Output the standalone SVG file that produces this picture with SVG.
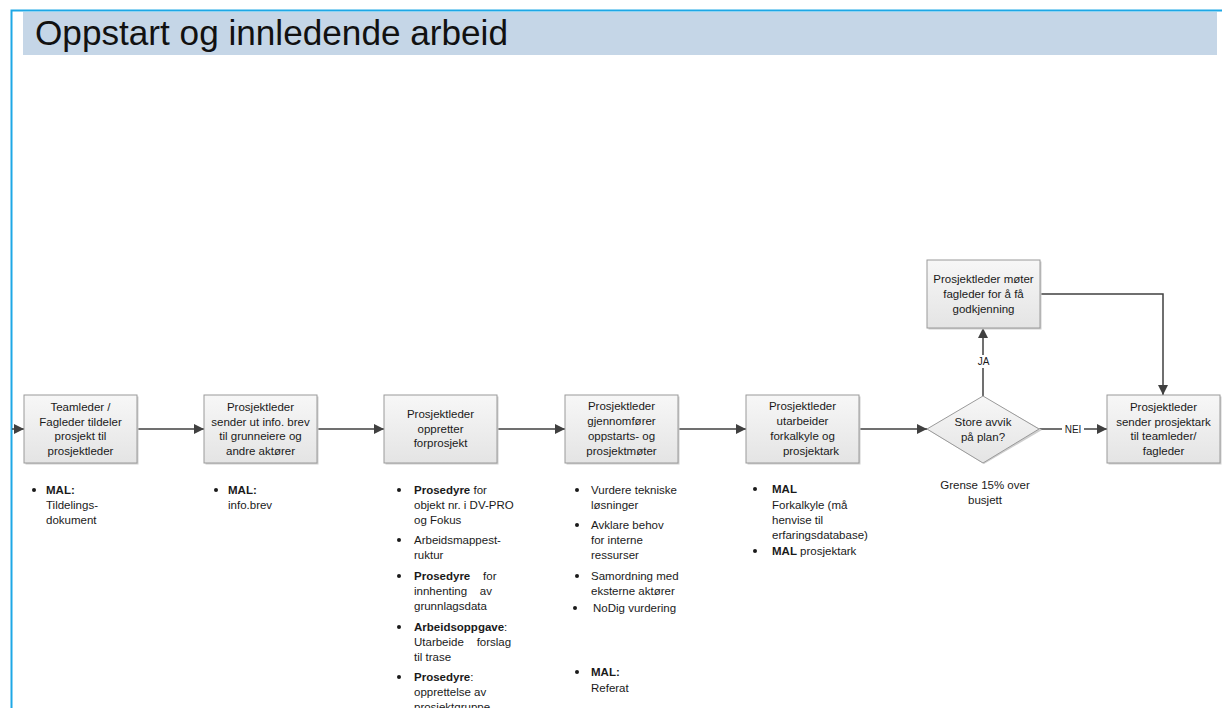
<svg xmlns="http://www.w3.org/2000/svg" width="1222" height="708" viewBox="0 0 1222 708">
<defs>
<linearGradient id="bg" x1="0" y1="0" x2="0" y2="1">
<stop offset="0" stop-color="#f7f7f7"/>
<stop offset="1" stop-color="#e4e4e4"/>
</linearGradient>
<marker id="ah" viewBox="0 0 10 10" refX="10" refY="5" markerWidth="11" markerHeight="10" markerUnits="userSpaceOnUse" orient="auto">
<path d="M0,0 L10,5 L0,10 Z" fill="#404040"/>
</marker>
<style>
.box{fill:url(#bg);stroke:#9a9a9a;stroke-width:1}
.sh{fill:#cfcfcf}
.t{font-family:"Liberation Sans",Arial,sans-serif;font-size:11.5px;fill:#1a1a1a}
.c{text-anchor:middle}
.b{font-weight:bold}
.con{fill:none;stroke:#404040;stroke-width:1.5}
.lbl{font-family:"Liberation Sans",Arial,sans-serif;font-size:10px;fill:#1a1a1a;text-anchor:middle}
</style>
</defs>
<rect width="1222" height="708" fill="#ffffff"/>
<rect x="23" y="12" width="1194" height="43" fill="#c5d6e7"/>
<path d="M11.5,708 V10.5 H1222" fill="none" stroke="#1ea8e6" stroke-width="2"/>
<text x="35" y="45" font-family="'Liberation Sans',Arial,sans-serif" font-size="35" fill="#111" textLength="473" lengthAdjust="spacingAndGlyphs">Oppstart og innledende arbeid</text>

<g id="connectors">
<path class="con" d="M12,429 H24" marker-end="url(#ah)"/>
<path class="con" d="M137,429 H204" marker-end="url(#ah)"/>
<path class="con" d="M317,429 H384" marker-end="url(#ah)"/>
<path class="con" d="M497,429 H565" marker-end="url(#ah)"/>
<path class="con" d="M678,429 H746" marker-end="url(#ah)"/>
<path class="con" d="M859,429 H927" marker-end="url(#ah)"/>
<path class="con" d="M983,396 V328" marker-end="url(#ah)"/>
<rect x="975" y="355" width="17" height="13" fill="#ffffff"/>
<text class="lbl" x="983.5" y="365">JA</text>
<path class="con" d="M1038,429 H1107" marker-end="url(#ah)"/>
<rect x="1062" y="423" width="22" height="12" fill="#ffffff"/>
<text class="lbl" x="1073" y="433">NEI</text>
<path class="con" d="M1040,294 H1163 V395" marker-end="url(#ah)"/>
</g>

<g id="n1">
<rect class="sh" x="25.5" y="396.5" width="113" height="68"/>
<rect class="box" x="24" y="395" width="113" height="68"/>
<text class="t c" x="80.5" y="411">Teamleder /</text>
<text class="t c" x="80.5" y="425.5">Fagleder tildeler</text>
<text class="t c" x="80.5" y="440">prosjekt til</text>
<text class="t c" x="80.5" y="455">prosjektleder</text>
</g>
<g id="n1-notes">
<circle cx="34" cy="490" r="2" fill="#1a1a1a"/>
<text class="t b" x="46" y="494">MAL:</text>
<text class="t" x="46" y="509">Tildelings-</text>
<text class="t" x="46" y="524">dokument</text>
</g>

<g id="n2">
<rect class="sh" x="205.5" y="396.5" width="113" height="68"/>
<rect class="box" x="204" y="395" width="113" height="68"/>
<text class="t c" x="260.5" y="411">Prosjektleder</text>
<text class="t c" x="260.5" y="425.5">sender ut info. brev</text>
<text class="t c" x="260.5" y="440">til grunneiere og</text>
<text class="t c" x="260.5" y="455">andre aktører</text>
</g>
<g id="n2-notes">
<circle cx="216" cy="490" r="2" fill="#1a1a1a"/>
<text class="t b" x="228" y="494">MAL:</text>
<text class="t" x="228" y="509">info.brev</text>
</g>

<g id="n3">
<rect class="sh" x="385.5" y="396.5" width="113" height="68"/>
<rect class="box" x="384" y="395" width="113" height="68"/>
<text class="t c" x="440.5" y="418">Prosjektleder</text>
<text class="t c" x="440.5" y="433">oppretter</text>
<text class="t c" x="440.5" y="447">forprosjekt</text>
</g>
<g id="n3-notes">
<circle cx="399" cy="490" r="2" fill="#1a1a1a"/>
<text class="t" x="414" y="494"><tspan class="b">Prosedyre</tspan> for</text>
<text class="t" x="414" y="509">objekt nr. i DV-PRO</text>
<text class="t" x="414" y="524">og Fokus</text>
<circle cx="399" cy="540" r="2" fill="#1a1a1a"/>
<text class="t" x="414" y="544">Arbeidsmappest-</text>
<text class="t" x="414" y="559">ruktur</text>
<circle cx="399" cy="576" r="2" fill="#1a1a1a"/>
<text class="t" x="414" y="580" xml:space="preserve"><tspan class="b">Prosedyre</tspan>    for</text>
<text class="t" x="414" y="595" xml:space="preserve">innhenting    av</text>
<text class="t" x="414" y="610">grunnlagsdata</text>
<circle cx="399" cy="627" r="2" fill="#1a1a1a"/>
<text class="t" x="414" y="631"><tspan class="b">Arbeidsoppgave</tspan>:</text>
<text class="t" x="414" y="646" xml:space="preserve">Utarbeide    forslag</text>
<text class="t" x="414" y="661">til trase</text>
<circle cx="399" cy="677" r="2" fill="#1a1a1a"/>
<text class="t" x="414" y="681"><tspan class="b">Prosedyre</tspan>:</text>
<text class="t" x="414" y="696">opprettelse av</text>
<text class="t" x="414" y="711">prosjektgruppe</text>
</g>

<g id="n4">
<rect class="sh" x="566.5" y="396.5" width="113" height="68"/>
<rect class="box" x="565" y="395" width="113" height="68"/>
<text class="t c" x="621.5" y="410">Prosjektleder</text>
<text class="t c" x="621.5" y="425">gjennomfører</text>
<text class="t c" x="621.5" y="440">oppstarts- og</text>
<text class="t c" x="621.5" y="455">prosjektmøter</text>
</g>
<g id="n4-notes">
<circle cx="577" cy="490" r="2" fill="#1a1a1a"/>
<text class="t" x="591" y="494">Vurdere tekniske</text>
<text class="t" x="591" y="509">løsninger</text>
<circle cx="577" cy="525" r="2" fill="#1a1a1a"/>
<text class="t" x="591" y="529">Avklare behov</text>
<text class="t" x="591" y="544">for interne</text>
<text class="t" x="591" y="559">ressurser</text>
<circle cx="577" cy="576" r="2" fill="#1a1a1a"/>
<text class="t" x="591" y="580">Samordning med</text>
<text class="t" x="591" y="595">eksterne aktører</text>
<circle cx="575" cy="608" r="2" fill="#1a1a1a"/>
<text class="t" x="593" y="612">NoDig vurdering</text>
<circle cx="577" cy="672" r="2" fill="#1a1a1a"/>
<text class="t b" x="591" y="676">MAL:</text>
<text class="t" x="591" y="692">Referat</text>
</g>

<g id="n5">
<rect class="sh" x="747.5" y="396.5" width="113" height="68"/>
<rect class="box" x="746" y="395" width="113" height="68"/>
<text class="t c" x="802.5" y="410">Prosjektleder</text>
<text class="t c" x="802.5" y="425">utarbeider</text>
<text class="t c" x="802.5" y="440">forkalkyle og</text>
<text class="t c" x="811" y="455">prosjektark</text>
</g>
<g id="n5-notes">
<circle cx="755" cy="489" r="2" fill="#1a1a1a"/>
<text class="t b" x="772" y="493">MAL</text>
<text class="t" x="772" y="509">Forkalkyle (må</text>
<text class="t" x="772" y="524">henvise til</text>
<text class="t" x="772" y="539">erfaringsdatabase)</text>
<circle cx="755" cy="551" r="2" fill="#1a1a1a"/>
<text class="t" x="772" y="555"><tspan class="b">MAL</tspan> prosjektark</text>
</g>

<g id="d1">
<polygon points="984,397 1042,430 984,464 928,430" fill="#cfcfcf"/>
<polygon class="box" points="983,396 1039,429 983,463 927,429"/>
<text class="t c" x="983" y="426">Store avvik</text>
<text class="t c" x="983" y="441">på plan?</text>
<text class="t c" x="985" y="489">Grense 15% over</text>
<text class="t c" x="985" y="504">busjett</text>
</g>

<g id="n6">
<rect class="sh" x="928.5" y="261.5" width="113" height="68"/>
<rect class="box" x="927" y="260" width="113" height="68"/>
<text class="t c" x="983.5" y="283">Prosjektleder møter</text>
<text class="t c" x="983.5" y="298">fagleder for å få</text>
<text class="t c" x="983.5" y="313">godkjenning</text>
</g>

<g id="n7">
<rect class="sh" x="1108.5" y="396.5" width="113" height="68"/>
<rect class="box" x="1107" y="395" width="113" height="68"/>
<text class="t c" x="1163.5" y="411">Prosjektleder</text>
<text class="t c" x="1163.5" y="425.5">sender prosjektark</text>
<text class="t c" x="1163.5" y="440">til teamleder/</text>
<text class="t c" x="1163.5" y="455">fagleder</text>
</g>
</svg>
